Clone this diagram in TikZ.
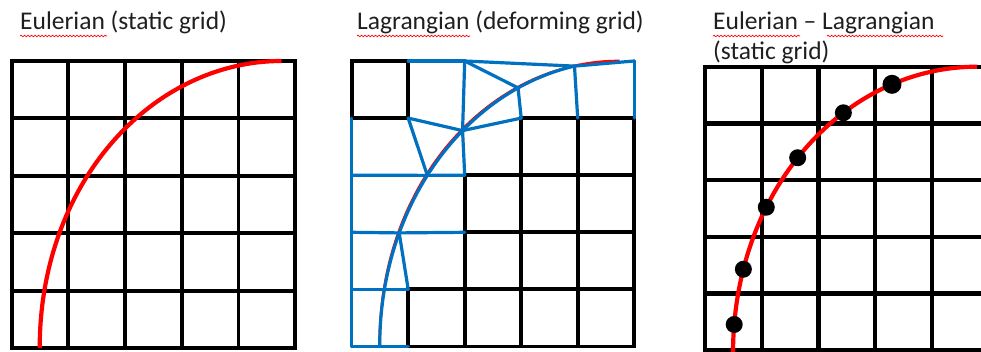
\documentclass[tikz,border=0pt]{standalone}
\usepackage{fontspec}
\setmainfont{Carlito}
\usetikzlibrary{decorations.pathmorphing}
\definecolor{meshblue}{RGB}{0,112,192}
\definecolor{curvered}{RGB}{255,0,0}
\begin{document}
\begin{tikzpicture}[x=1pt,y=-1pt,
  gridline/.style={black, line width=3.9pt, line cap=rect},
  gridthick/.style={black, line width=4.3pt, line cap=rect},
  meshline/.style={meshblue, line width=3.2pt, line cap=round, line join=round},
  interface/.style={curvered, line width=4.2pt},
  title/.style={anchor=base west, inner sep=0pt, font=\fontsize{25.5}{30}\selectfont, text=black!88},
  spell/.style={red, line width=0.7pt, decorate, decoration={snake, amplitude=0.8pt, segment length=3.5pt}},
  marker/.style={circle, fill=black, inner sep=0pt, minimum size=17pt}]

\useasboundingbox (0,0) rectangle (981,352);
\clip (0,0) rectangle (981,352);

% ---------- titles ----------
\node[title] (t1) at (20,30) {Eulerian (static grid)};
\draw[spell] (20,36) -- (107,36);
\node[title] (t2) at (357,30) {Lagrangian (deforming grid)};
\draw[spell] (357,36) -- (470,36);
\node[title] (t3a) at (713,30) {Eulerian – Lagrangian};
\node[title] (t3b) at (713,60) {(static grid)};
\draw[spell] (713,36) -- (800,36);
\draw[spell] (827,36) -- (943,36);

% ---------- panel 1: Eulerian ----------
\begin{scope}[shift={(11.7,61)}]
  \foreach \i in {0,...,5} {
    \draw[gridline] (\i*56.7,0) -- (\i*56.7,287);
    \draw[gridline] (0,\i*57.4) -- (283.5,\i*57.4);
  }
  \draw[interface] (28,287) .. controls (28,122) and (140,0) .. (270,0);
\end{scope}

% ---------- panel 2: Lagrangian ----------
\begin{scope}[shift={(351.7,61)}]
  \foreach \i in {0,...,5} {
    \foreach \j in {0,...,5} {
      \coordinate (q\i\j) at (\i*56.5,\j*57.1);
    }
  }
  \coordinate (c2s) at (28,285.5);
  \coordinate (c2e) at (268,0);
  % black (undeformed) cells
  \draw[gridline] (q00) -- (q10) -- (q11) -- (q01) -- cycle;
  \draw[gridline] (q31) -- (q51);
  \draw[gridline] (q22) -- (q52);
  \draw[gridline] (q23) -- (q53);
  \draw[gridline] (q14) -- (q54);
  \draw[gridline] (q15) -- (q55);
  \draw[gridline] (q14) -- (q15);
  \draw[gridline] (q22) -- (q25);
  \draw[gridline] (q31) -- (q35);
  \draw[gridline] (q41) -- (q45);
  \draw[gridline] (q51) -- (q55);
  % interface
  \path (c2s) .. controls (28,122) and (140,0) .. (c2e)
    coordinate[pos=0.25] (E) coordinate[pos=0.40] (D) coordinate[pos=0.54] (C)
    coordinate[pos=0.72] (B) coordinate[pos=0.88] (A);
  \draw[interface, line width=2.6pt, shift={(-1.3,-0.6)}] (c2s) .. controls (28,122) and (140,0) .. (c2e);
  % deformed blue mesh
  \draw[meshline] (c2s) .. controls (28,141.8) and (114.7,29.9) .. (A);
  \draw[meshline] (q10) -- (q20);
  \draw[meshline] (q20) -- (A) -- (q50);
  \draw[meshline] (q50) -- (q51);
  \draw[meshline] (A) -- (q41);
  \draw[meshline] (q20) -- (B);
  \draw[meshline] (B) -- (q31);
  \draw[meshline] (q20) -- (C) -- (q22);
  \draw[meshline] (C) -- (q31);
  \draw[meshline] (C) -- (q11);
  \draw[meshline] (q11) -- (D);
  \draw[meshline] (q02) -- (D) -- (q22);
  \draw[meshline] (q03) -- (E) -- (q23);
  \draw[meshline] (E) -- (q14);
  \draw[meshline] (q04) -- (q14);
  \draw[meshline] (q05) -- (q15);
  \draw[meshline] (q01) -- (q05);
\end{scope}

% ---------- panel 3: Eulerian-Lagrangian ----------
\begin{scope}[shift={(705,66.7)}]
  \foreach \i in {0,...,5} {
    \draw[gridthick] (\i*56.7,0) -- (\i*56.7,300);
    \draw[gridthick] (0,\i*56.7) -- (300,\i*56.7);
  }
  \draw[interface] (28,300) -- (28,287) .. controls (28,122) and (140,0) .. (272,0)
    node[marker, pos=0.06] (m1) {}
    node[marker, pos=0.18] (m2) {}
    node[marker, pos=0.33] (m3) {}
    node[marker, pos=0.47] (m4) {}
    node[marker, pos=0.63] (m5) {}
    node[marker, pos=0.775, minimum size=19pt] (m6) {};
\end{scope}
\end{tikzpicture}
\end{document}
